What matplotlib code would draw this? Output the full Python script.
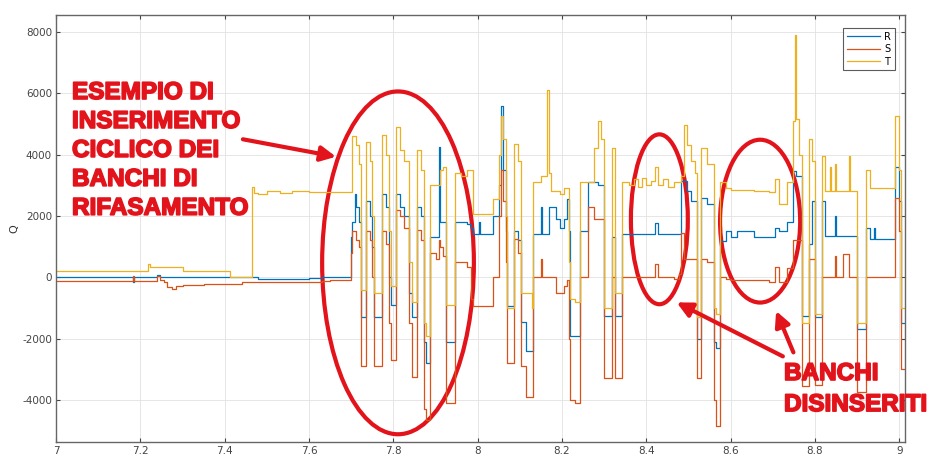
import matplotlib
matplotlib.use("Agg")
import matplotlib.pyplot as plt
import matplotlib.patheffects as pe
from matplotlib.patches import Ellipse

plt.rcParams["axes.unicode_minus"] = False

# breakpoints (time) and the step values of the three phases
t = [7.000, 7.182, 7.185, 7.218, 7.222, 7.240, 7.246, 7.255, 7.262, 7.275,
     7.285, 7.300, 7.350, 7.412, 7.440, 7.465, 7.470, 7.480, 7.500, 7.530,
     7.560, 7.600, 7.630, 7.650, 7.700, 7.703, 7.708, 7.712, 7.718, 7.722,
     7.735, 7.744, 7.750, 7.755, 7.773, 7.782, 7.790, 7.795, 7.806, 7.815,
     7.826, 7.838, 7.843, 7.856, 7.866, 7.872, 7.878, 7.886, 7.900, 7.908,
     7.910, 7.918, 7.924, 7.945, 7.960, 7.975, 7.985, 7.990, 8.003, 8.006,
     8.037, 8.050, 8.055, 8.060, 8.066, 8.070, 8.087, 8.096, 8.103, 8.115,
     8.128, 8.131, 8.150, 8.153, 8.165, 8.168, 8.175, 8.185, 8.195, 8.205,
     8.212, 8.216, 8.220, 8.232, 8.243, 8.258, 8.262, 8.275, 8.285, 8.293,
     8.300, 8.318, 8.326, 8.343, 8.360, 8.370, 8.380, 8.390, 8.400, 8.410,
     8.420, 8.428, 8.440, 8.452, 8.465, 8.478, 8.482, 8.490, 8.497, 8.505,
     8.515, 8.521, 8.530, 8.545, 8.560, 8.565, 8.575, 8.590, 8.600, 8.615,
     8.635, 8.655, 8.690, 8.705, 8.714, 8.733, 8.748, 8.753, 8.756, 8.763,
     8.770, 8.785, 8.792, 8.800, 8.818, 8.823, 8.835, 8.838, 8.848, 8.851,
     8.866, 8.880, 8.883, 8.900, 8.922, 8.930, 8.940, 8.943, 8.990, 9.000,
     9.004, 9.014]

R = [0, -150, 0, 0, 0, 60, 0, 0, 0, 0,
     0, 0, 0, 0, 0, 0, 20, -50, -60, -60,
     -50, -40, 0, 0, 1300, 1800, 2700, 2300, 1800, -1300,
     2500, 2000, 1000, -1300, 2700, 2300, 0, -900, 2700, 2300,
     2000, -500, -1300, 2300, 2000, -2100, -2800, 1300, 1300, 4250,
     1800, 1800, -2100, 1800, 1800, 1750, 1600, 1400, 1800, 1400,
     2000, 3000, 5600, 3500, 1500, -950, 1500, 1200, -1450, -2400,
     -2400, 1400, 2300, 1400, 1400, 2300, 2300, 1900, 1600, 1900,
     2550, 1500, -1900, -1900, 1500, 1500, 3100, 3100, 3000, 3000,
     -1270, 1300, -1270, 1400, 1400, 1400, 1400, 1400, 1400, 1400,
     1780, 1400, 1400, 1400, 1400, 1400, 3150, 3150, 2800, 2500,
     2500, -2000, 2600, 2400, -2100, -2300, 1180, 1500, 1300, 1500,
     1500, 1300, 1300, 1600, 1500, 1800, 3450, 3450, 3300, 3300,
     -1270, 1100, 2500, -1300, 2500, 1350, 1350, 1350, 2000, 1350,
     1350, 1350, 1350, -1700, 1600, 1250, 1600, 1250, 3600, 2500,
     -1500, -1500]

S = [-120, 50, -120, -120, -120, 40, -80, -150, -330, -380,
     -300, -250, -220, -220, -150, -150, -150, -150, -160, -170,
     -160, -150, -120, -100, 800, 1500, 1500, 1200, 1000, -2900,
     1500, 1200, 0, -2900, 1500, 1100, -1500, -2700, 2200, 2000,
     1600, -1500, -3250, 1550, 1200, -4300, -4650, 800, 600, 1200,
     1000, 700, -4100, 500, 500, 350, -700, -950, -950, -950,
     0, 2000, 3500, 2500, 500, -2800, 1250, 800, -2900, -3900,
     -3900, 0, 600, 0, 0, 0, 0, -500, -500, -300,
     -100, -2000, -4000, -4100, 0, 0, 2300, 1900, 1900, 1900,
     -3300, 0, -3300, 0, 0, 0, 0, 0, 0, 0,
     430, 0, 0, 0, -50, 100, 1450, 600, 600, 600,
     600, -3300, 600, 500, -4000, -4850, 0, -50, -100, -80,
     -100, -100, -150, 330, -150, 300, 1200, 1200, 1200, 1200,
     -3550, 600, 600, -3500, 0, 0, 0, 0, 700, 0,
     750, 0, 0, -3750, 0, 0, 0, 0, 2600, 1500,
     -3000, -3000]

T = [200, 200, 200, 420, 330, 330, 330, 330, 330, 330,
     330, 200, 200, 20, 20, 2950, 2750, 2700, 2800, 2750,
     2800, 2780, 2780, 2780, 2780, 4600, 4600, 4300, 3700, -400,
     4400, 3800, 2000, -500, 4650, 4000, 1500, -300, 4900, 4150,
     3800, 500, -800, 4150, 3500, -1500, -1900, 3000, 3000, 3000,
     3500, 3600, -900, 3400, 3300, 3500, 3500, 2050, 2050, 2050,
     2550, 4000, 5250, 4500, 2000, -1000, 4350, 3800, -500, -500,
     -1000, 3100, 3300, 3300, 6100, 3400, 2800, 2800, 2700, 2900,
     2900, 500, -700, -800, 3100, 3100, 3100, 4200, 5100, 4500,
     -1000, 4200, -500, 3100, 3000, 3200, 2950, 3250, 3000, 3150,
     3600, 3000, 3200, 2950, 3100, 3100, 3300, 4950, 4300, 3800,
     3400, -1300, 4200, 3700, -1000, -1200, 3100, 2900, 2850, 2850,
     2850, 2800, 2770, 3200, 2400, 3100, 5100, 7900, 5150, 4000,
     -1500, 4500, 3800, -1200, 3950, 2800, 3600, 2800, 3700, 2800,
     2800, 3950, 2800, -1500, 3500, 2900, 2900, 2900, 5250, 3500,
     -1000, -1000]

labels = ["R", "S", "T"]
colors = ["#0072BD", "#D95319", "#EDB120"]
red = "#e3131b"

fig = plt.figure(figsize=(9.36, 4.57), dpi=100)
ax = fig.add_axes([0.060, 0.033, 0.907, 0.934])

for vals, lab, col in zip([R, S, T], labels, colors):
    ax.plot(t, vals, drawstyle="steps-post", color=col, lw=0.9, label=lab)

ax.set_xlim(7, 9.014)
ax.set_ylim(-5370, 8550)
ax.set_xticks([7, 7.2, 7.4, 7.6, 7.8, 8, 8.2, 8.4, 8.6, 8.8, 9])
ax.set_xticklabels(["7", "7.2", "7.4", "7.6", "7.8", "8", "8.2", "8.4", "8.6", "8.8", "9"])
ax.set_yticks([-4000, -2000, 0, 2000, 4000, 6000, 8000])
ax.grid(True, color="#e2e2e2", lw=0.6)
ax.set_axisbelow(True)
ax.tick_params(direction="in", length=3, width=0.8, labelsize=7.5,
               colors="#444444", top=True, right=True, pad=3)
for sp in ax.spines.values():
    sp.set_color("#666666")
    sp.set_linewidth(1.0)
ax.set_ylabel("Q", fontsize=8, color="#333333", labelpad=2)

leg = ax.legend(loc="upper right", bbox_to_anchor=(0.9935, 0.9805), fontsize=7,
                frameon=True, fancybox=False, edgecolor="#333333",
                handlelength=3.4, borderpad=0.35, labelspacing=0.25,
                handletextpad=0.5, markerfirst=True)
leg.get_frame().set_linewidth(0.8)

# annotations
ax.add_patch(Ellipse((7.811, 470), 0.360, 11180, fill=False, ec=red, lw=3))
ax.add_patch(Ellipse((8.431, 1890), 0.135, 5540, fill=False, ec=red, lw=3))
ax.add_patch(Ellipse((8.670, 1830), 0.190, 5310, fill=False, ec=red, lw=3))

txt_kw = dict(color=red, fontsize=17.5, fontweight="bold", family="Liberation Sans",
              clip_on=False, path_effects=[pe.withStroke(linewidth=1.2, foreground=red)])
fig.text(72 / 936, 1 - 81 / 457, "ESEMPIO DI\nINSERIMENTO\nCICLICO DEI\nBANCHI DI\nRIFASAMENTO",
         ha="left", va="top", linespacing=1.33, **txt_kw)
fig.text(784 / 936, 1 - 362 / 457, "BANCHI\nDISINSERITI", ha="left", va="top",
         linespacing=1.45, **txt_kw)

arrow_kw = dict(arrowstyle="-|>,head_length=0.9,head_width=0.45", color=red, lw=3,
                shrinkA=0, shrinkB=0)
ax.annotate("", xy=(7.664, 3930), xytext=(7.443, 4500), arrowprops=arrow_kw)
ax.annotate("", xy=(8.472, -820), xytext=(8.724, -2580), arrowprops=arrow_kw)
ax.annotate("", xy=(8.708, -1100), xytext=(8.749, -2450), arrowprops=arrow_kw)

fig.savefig("out.png", dpi=100)
